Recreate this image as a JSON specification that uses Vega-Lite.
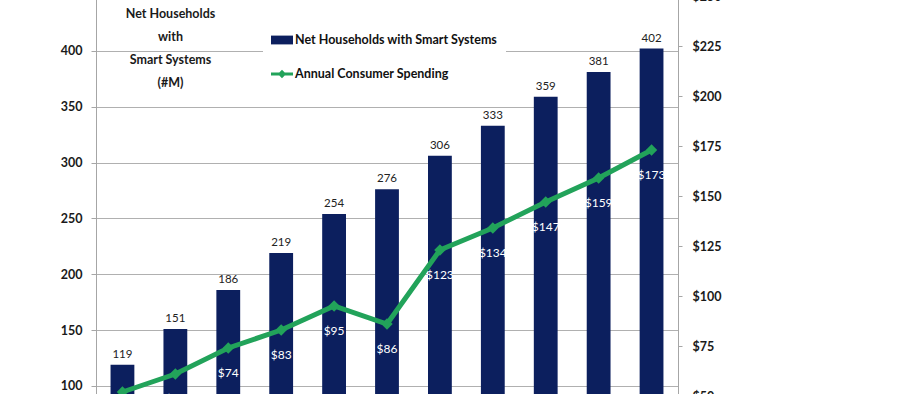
{
  "$schema": "https://vega.github.io/schema/vega-lite/v6.json",
  "width": 582,
  "height": 415,
  "autosize": {"type": "none"},
  "padding": {"left": 96, "top": -5, "right": 228, "bottom": 0},
  "background": "white",
  "config": {
    "view": {"stroke": null},
    "font": "Lato",
    "axis": {
      "labelFont": "Lato",
      "labelFontSize": 12.5,
      "labelFontWeight": "bold",
      "labelColor": "#1a1a1a",
      "domainColor": "#a6a6a6",
      "tickColor": "#a6a6a6",
      "gridColor": "#b0b0b0",
      "labelFlush": false,
      "labelOverlap": false
    }
  },
  "data": {
    "values": [
      {"year": "2012", "households": 119, "spending": 52},
      {"year": "2013", "households": 151, "spending": 61},
      {"year": "2014", "households": 186, "spending": 74},
      {"year": "2015", "households": 219, "spending": 83},
      {"year": "2016", "households": 254, "spending": 95},
      {"year": "2017", "households": 276, "spending": 86},
      {"year": "2018", "households": 306, "spending": 123},
      {"year": "2019", "households": 333, "spending": 134},
      {"year": "2020", "households": 359, "spending": 147},
      {"year": "2021", "households": 381, "spending": 159},
      {"year": "2022", "households": 402, "spending": 173}
    ]
  },
  "encoding": {
    "x": {
      "field": "year",
      "type": "ordinal",
      "axis": null,
      "scale": {"paddingInner": 0.55, "paddingOuter": 0.275}
    }
  },
  "layer": [
    {
      "encoding": {
        "y": {
          "field": "households",
          "type": "quantitative",
          "scale": {"domain": [78.5, 450], "zero": false, "nice": false},
          "axis": {
            "orient": "left",
            "values": [100, 150, 200, 250, 300, 350, 400, 450],
            "grid": true,
            "tickSize": 5,
            "labelPadding": 9,
            "title": ["Net Households", "with", "Smart Systems", "(#M)"],
            "titleAngle": 0,
            "titleX": 74,
            "titleY": 12,
            "titleAlign": "center",
            "titleBaseline": "top",
            "titleLineHeight": 23,
            "titleFontSize": 12.5,
            "titleFontWeight": "bold",
            "titleColor": "#1a1a1a",
            "titleFont": "Lato"
          }
        }
      },
      "layer": [
        {
          "mark": {"type": "bar", "clip": true},
          "encoding": {
            "color": {
              "datum": "Net Households with Smart Systems",
              "type": "nominal",
              "scale": {
                "domain": ["Net Households with Smart Systems", "Annual Consumer Spending"],
                "range": ["#0c1f5e", "#22a35a"]
              },
              "legend": {
                "orient": "none",
                "legendX": 167,
                "legendY": 26,
                "title": null,
                "padding": 8,
                "fillColor": "white",
                "rowPadding": 16,
                "labelFontSize": 12.5,
                "labelFontWeight": "bold",
                "labelLimit": 400,
                "labelFont": "Lato",
                "labelColor": "#111111",
                "labelOffset": 2,
                "symbolSize": 484,
                "encode": {
                  "symbols": {
                    "update": {
                      "shape": {"signal": "datum.value == 'Annual Consumer Spending' ? 'M-1,-0.14L1,-0.14L1,0.14L-1,0.14Z M-0.38,0L0,-0.38L0.38,0L0,0.38Z' : 'M-1,-0.4L1,-0.4L1,0.4L-1,0.4Z'"},
                      "fill": {"signal": "datum.value == 'Annual Consumer Spending' ? '#22a35a' : '#0c1f5e'"},
                      "strokeWidth": {"value": 0},
                      "opacity": {"value": 1},
                      "fillOpacity": {"value": 1}
                    }
                  }
                }
              }
            }
          }
        },
        {
          "mark": {"type": "text", "dy": -10, "fontSize": 11.5, "color": "#222222", "font": "Lato"},
          "encoding": {"text": {"field": "households", "type": "quantitative"}}
        }
      ]
    },
    {
      "encoding": {
        "y": {
          "field": "spending",
          "type": "quantitative",
          "scale": {"domain": [43, 250.5], "zero": false, "nice": false},
          "axis": {
            "orient": "right",
            "values": [50, 75, 100, 125, 150, 175, 200, 225, 250],
            "format": "$.0f",
            "grid": false,
            "tickSize": 4,
            "labelPadding": 10,
            "title": null
          }
        }
      },
      "layer": [
        {
          "mark": {
            "type": "line",
            "strokeWidth": 5,
            "point": {"shape": "diamond", "size": 130, "filled": true, "color": "#22a35a"}
          },
          "encoding": {
            "color": {"datum": "Annual Consumer Spending", "type": "nominal"}
          }
        },
        {
          "mark": {"type": "text", "dy": 25, "fontSize": 12, "color": "white", "font": "Lato"},
          "encoding": {"text": {"field": "spending", "type": "quantitative", "format": "$.0f"}}
        }
      ]
    }
  ],
  "resolve": {"scale": {"y": "independent"}}
}
